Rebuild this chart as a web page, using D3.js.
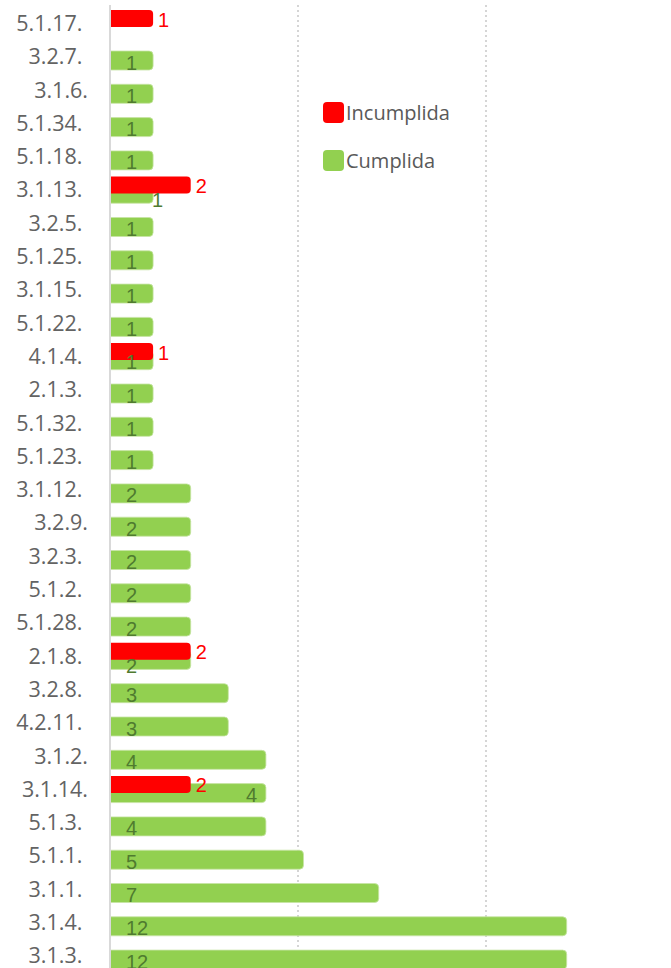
<!DOCTYPE html>
<html>
<head>
<meta charset="utf-8">
<script src="https://cdn.jsdelivr.net/npm/d3@7"></script>
<style>
  html, body { margin: 0; padding: 0; background: #fff; }
  svg { display: block; }
  text { white-space: pre; }
</style>
</head>
<body>
<svg id="chart" width="671" height="968"></svg>
<script>
// ---- data ----
const categories = ["5.1.17. ", "3.2.7. ", "3.1.6.", "5.1.34. ", "5.1.18. ", "3.1.13. ", "3.2.5. ",
  "5.1.25. ", "3.1.15. ", "5.1.22. ", "4.1.4. ", "2.1.3. ", "5.1.32. ", "5.1.23. ", "3.1.12. ",
  "3.2.9.", "3.2.3. ", "5.1.2. ", "5.1.28. ", "2.1.8. ", "3.2.8. ", "4.2.11. ", "3.1.2.",
  "3.1.14.", "5.1.3. ", "5.1.1. ", "3.1.1. ", "3.1.4. ", "3.1.3. "];
const cumplida = [0, 1, 1, 1, 1, 1, 1, 1, 1, 1, 1, 1, 1, 1, 2, 2, 2, 2, 2, 2, 3, 3, 4, 4, 4, 5, 7, 12, 12];
const incumplida = [1, 0, 0, 0, 0, 2, 0, 0, 0, 0, 1, 0, 0, 0, 0, 0, 0, 0, 0, 2, 0, 0, 0, 2, 0, 0, 0, 0, 0];
// placement of the "Cumplida" data label (default: inside base)
const cumplidaLabelPos = {"3.1.13. ": "outsideEnd", "3.1.14.": "insideEnd", "2.1.8. ": "low"};
const seriesNames = ["Incumplida", "Cumplida"];
const seriesColors = ["#FF0000", "#92D050"];
const gridTicks = [5, 10];

// ---- layout ----
const svg = d3.select("#chart");
const x = d3.scaleLinear().domain([0, 15]).range([110, 674]);
const y = d3.scaleBand().domain(categories).range([6.75, 6.75 + 29 * 33.3]).padding(0);
const capExtra = 5.5;
const redOff = 3.25, redH = 17, greenOff = 10.95, greenH = 19;

const clip = svg.append("defs").append("clipPath").attr("id", "plotclip");
clip.append("rect").attr("x", x(0)).attr("y", 0).attr("width", 671).attr("height", 968);

// gridlines
svg.append("g").selectAll("line").data(gridTicks).join("line")
  .attr("x1", d => x(d)).attr("x2", d => x(d))
  .attr("y1", 5).attr("y2", 968)
  .attr("stroke", "#c8c8c8").attr("stroke-width", 1.5).attr("stroke-dasharray", "2,3");

function barPath(x0, x1, y0, h, r) {
  const p = d3.path();
  p.moveTo(x0, y0);
  p.lineTo(x1 - r, y0);
  p.arcTo(x1, y0, x1, y0 + r, r);
  p.lineTo(x1, y0 + h - r);
  p.arcTo(x1, y0 + h, x1 - r, y0 + h, r);
  p.lineTo(x0, y0 + h);
  p.closePath();
  return p.toString();
}

const rows = categories.map((c, i) => ({cat: c, ok: cumplida[i], ko: incumplida[i]}));

const bars = svg.append("g").attr("clip-path", "url(#plotclip)");
// green (Cumplida) first
bars.selectAll("path.g").data(rows.filter(d => d.ok > 0)).join("path")
  .attr("class", "g")
  .attr("d", d => barPath(x(0) - 2, x(d.ok) + capExtra, y(d.cat) + greenOff, greenH, 4))
  .attr("fill", seriesColors[1])
  .attr("stroke", "#c6e4a4").attr("stroke-width", 0.8);
// green labels
svg.append("g").selectAll("text").data(rows.filter(d => d.ok > 0)).join("text")
  .attr("x", d => {
    const pos = cumplidaLabelPos[d.cat];
    if (pos === "outsideEnd") return x(d.ok) + capExtra - 1;
    if (pos === "insideEnd") return x(d.ok) + capExtra - 20;
    return x(0) + 16;
  })
  .attr("y", d => {
    const pos = cumplidaLabelPos[d.cat];
    const base = y(d.cat) + greenOff + 18.5;
    if (pos === "outsideEnd") return base + 4;
    if (pos === "low") return base + 4;
    return base;
  })
  .attr("font-family", "'Liberation Sans Narrow', 'Arial Narrow', sans-serif")
  .attr("font-size", 20)
  .attr("fill", "#4f7b2f")
  .text(d => d.ok);

// red (Incumplida) on top
bars.selectAll("path.r").data(rows.filter(d => d.ko > 0)).join("path")
  .attr("class", "r")
  .attr("d", d => barPath(x(0) - 2, x(d.ko) + capExtra, y(d.cat) + redOff, redH, 4))
  .attr("fill", seriesColors[0]);
svg.append("g").selectAll("text").data(rows.filter(d => d.ko > 0)).join("text")
  .attr("x", d => x(d.ko) + capExtra + 5)
  .attr("y", d => y(d.cat) + redOff + 16.5)
  .attr("font-family", "'Liberation Sans Narrow', 'Arial Narrow', sans-serif")
  .attr("font-size", 20)
  .attr("fill", "#FF0000")
  .text(d => d.ko);

// vertical axis line
svg.append("line")
  .attr("x1", x(0)).attr("x2", x(0)).attr("y1", 5).attr("y2", 968)
  .attr("stroke", "#d9d9d9").attr("stroke-width", 2);

// category labels
svg.append("g").selectAll("text").data(categories).join("text")
  .attr("x", 88)
  .attr("y", d => y(d) + y.bandwidth() / 2 - 1)
  .attr("text-anchor", "end")
  .attr("dominant-baseline", "central")
  .attr("font-family", "'Open Sans', sans-serif")
  .attr("font-size", 21.5)
  .attr("fill", "#636363")
  .text(d => d);

// legend
const legend = svg.append("g");
const legendY = [102, 150];
seriesNames.forEach((s, i) => {
  legend.append("rect")
    .attr("x", 323).attr("y", legendY[i]).attr("width", 21).attr("height", 21).attr("rx", 4)
    .attr("fill", seriesColors[i]);
  legend.append("text")
    .attr("x", 346).attr("y", legendY[i] + 10.5)
    .attr("dominant-baseline", "central")
    .attr("font-family", "'Open Sans', sans-serif")
    .attr("font-size", 20)
    .attr("fill", "#595959")
    .text(s);
});
</script>
</body>
</html>
